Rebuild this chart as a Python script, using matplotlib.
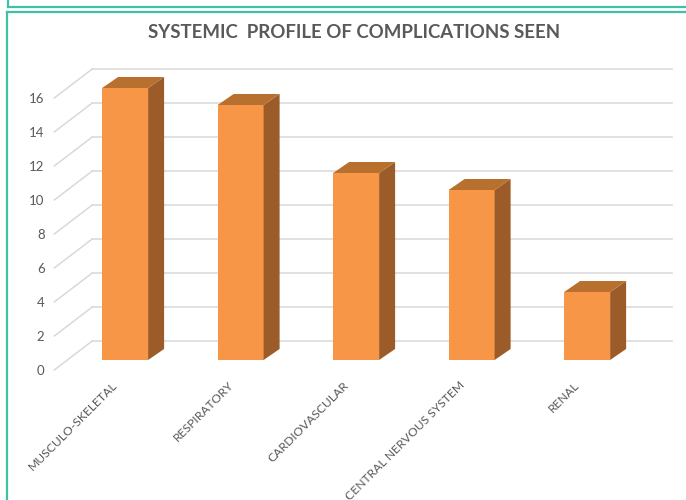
import matplotlib
matplotlib.use('Agg')
import matplotlib.pyplot as plt
from matplotlib.patches import Polygon
from matplotlib.lines import Line2D
import numpy as np

# Data
categories = ['MUSCULO-SKELETAL', 'RESPIRATORY', 'CARDIOVASCULAR',
              'CENTRAL NERVOUS SYSTEM', 'RENAL']
values = [16, 15, 11, 10, 4]
yticks = list(range(0, 17, 2))
title = 'SYSTEMIC  PROFILE OF COMPLICATIONS SEEN'

# Colours / 3D look
front_c = '#F79646'
top_c = '#B8702F'
side_c = '#9C5C2A'
grid_c = '#D9D9D9'
text_c = '#595959'
frame_c = '#3EC1A6'

DX, DY = 0.329, 1.706          # full depth offset of the walls (data units)
BAR_D0 = 0.345                 # depth of bar front face
BDX, BDY = 0.1385, 0.647       # bar depth offset
BW = 0.398                     # bar width

plt.rcParams['font.family'] = ['Lato', 'DejaVu Sans']

W, H = 686, 500
fig = plt.figure(figsize=(W / 100, H / 100), dpi=100)
ax = fig.add_axes([54.25 / W, 1 - 370 / H, (669.9 - 54.25) / W, (370 - 55.5) / H])
ax.set_xlim(-0.5, 4.83)
ax.set_ylim(0, 18.5)
for s in ax.spines.values():
    s.set_visible(False)

# back wall gridlines and side wall diagonals
for v in yticks:
    ax.plot([-0.5 + DX, 4.5 + DX + 0.02], [v + DY, v + DY], color=grid_c, lw=1.1,
            clip_on=False, zorder=1)
    ax.plot([-0.5, -0.5 + DX], [v, v + DY], color=grid_c, lw=1.1,
            clip_on=False, zorder=1)

x = np.arange(len(categories))
fx = x + BAR_D0 * DX
fy0 = BAR_D0 * DY
ax.bar(fx, values, width=BW, bottom=fy0, color=front_c, zorder=3, clip_on=False)
for xi, v in zip(fx, values):
    l, r = xi - BW / 2, xi + BW / 2
    t = fy0 + v
    ax.add_patch(Polygon([(r, fy0), (r + BDX, fy0 + BDY), (r + BDX, t + BDY), (r, t)],
                         closed=True, fc=side_c, ec='none', zorder=3, clip_on=False))
    ax.add_patch(Polygon([(l, t), (r, t), (r + BDX, t + BDY), (l + BDX, t + BDY)],
                         closed=True, fc=top_c, ec='none', zorder=3, clip_on=False))

ax.set_yticks(yticks)
ax.set_yticklabels([str(v) for v in yticks], fontsize=9.5, color=text_c)
ax.set_xticks(x)
ax.set_xticklabels(categories, rotation=45, ha='right', rotation_mode='anchor',
                   fontsize=8.7, color=text_c)
ax.tick_params(axis='both', length=0)
ax.tick_params(axis='y', pad=7)
ax.tick_params(axis='x', pad=7)

fig.text(354 / W, 1 - 32 / H, title, ha='center', va='center', fontsize=13.4,
         fontweight='bold', color=text_c)

# teal frames
fig.add_artist(Line2D([8 / W, 8 / W], [1, 1 - 6.5 / H], color=frame_c, lw=1.6))
fig.add_artist(Line2D([8 / W, 1], [1 - 6.5 / H, 1 - 6.5 / H], color=frame_c, lw=1.6))
fig.add_artist(Line2D([7 / W, 1], [1 - 12 / H, 1 - 12 / H], color=frame_c, lw=1.6))
fig.add_artist(Line2D([7 / W, 7 / W], [1 - 12 / H, 0], color=frame_c, lw=1.6))

fig.savefig('out.png', dpi=100)
